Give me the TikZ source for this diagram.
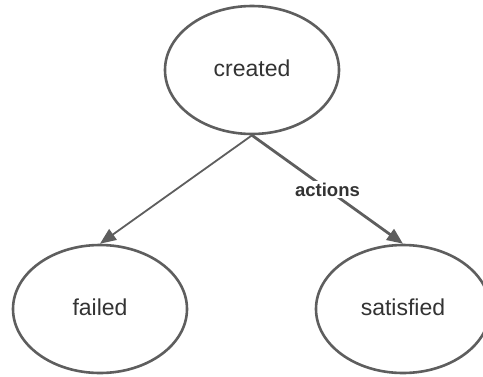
\documentclass[tikz,border=0pt]{standalone}
\usepackage{fontspec}
\setmainfont{Liberation Sans}
\usetikzlibrary{shapes.geometric,arrows.meta}
\definecolor{edgegray}{HTML}{5E5E5E}
\definecolor{textgray}{HTML}{333333}
\newcommand{\statetext}[1]{\raisebox{3pt}{#1}}
\begin{document}
\begin{tikzpicture}[x=1pt,y=-1pt,
  state/.style={ellipse,draw=edgegray,line width=2.6pt,fill=white,
    minimum width=174pt,minimum height=128pt,inner sep=0pt,
    text=textgray,font=\fontsize{23}{27}\selectfont},
  trans/.style={draw=edgegray,-{Triangle[length=16pt,width=13pt]}},
  tlabel/.style={fill=white,text=textgray,inner sep=2pt,
    font=\fontsize{18.5}{22}\selectfont\bfseries}]
  \useasboundingbox (0,0) rectangle (483,376);
  \node[state] (created) at (252,70) {\statetext{created}};
  \node[state] (failed) at (100,309) {\statetext{failed}};
  \node[state] (satisfied) at (403,309) {\statetext{satisfied}};
  \draw[trans,line width=1.8pt] (created.south) -- (failed.north);
  \draw[trans,line width=2.8pt] (created.south) -- node[tlabel] (act) {actions} (satisfied.north);
\end{tikzpicture}
\end{document}
